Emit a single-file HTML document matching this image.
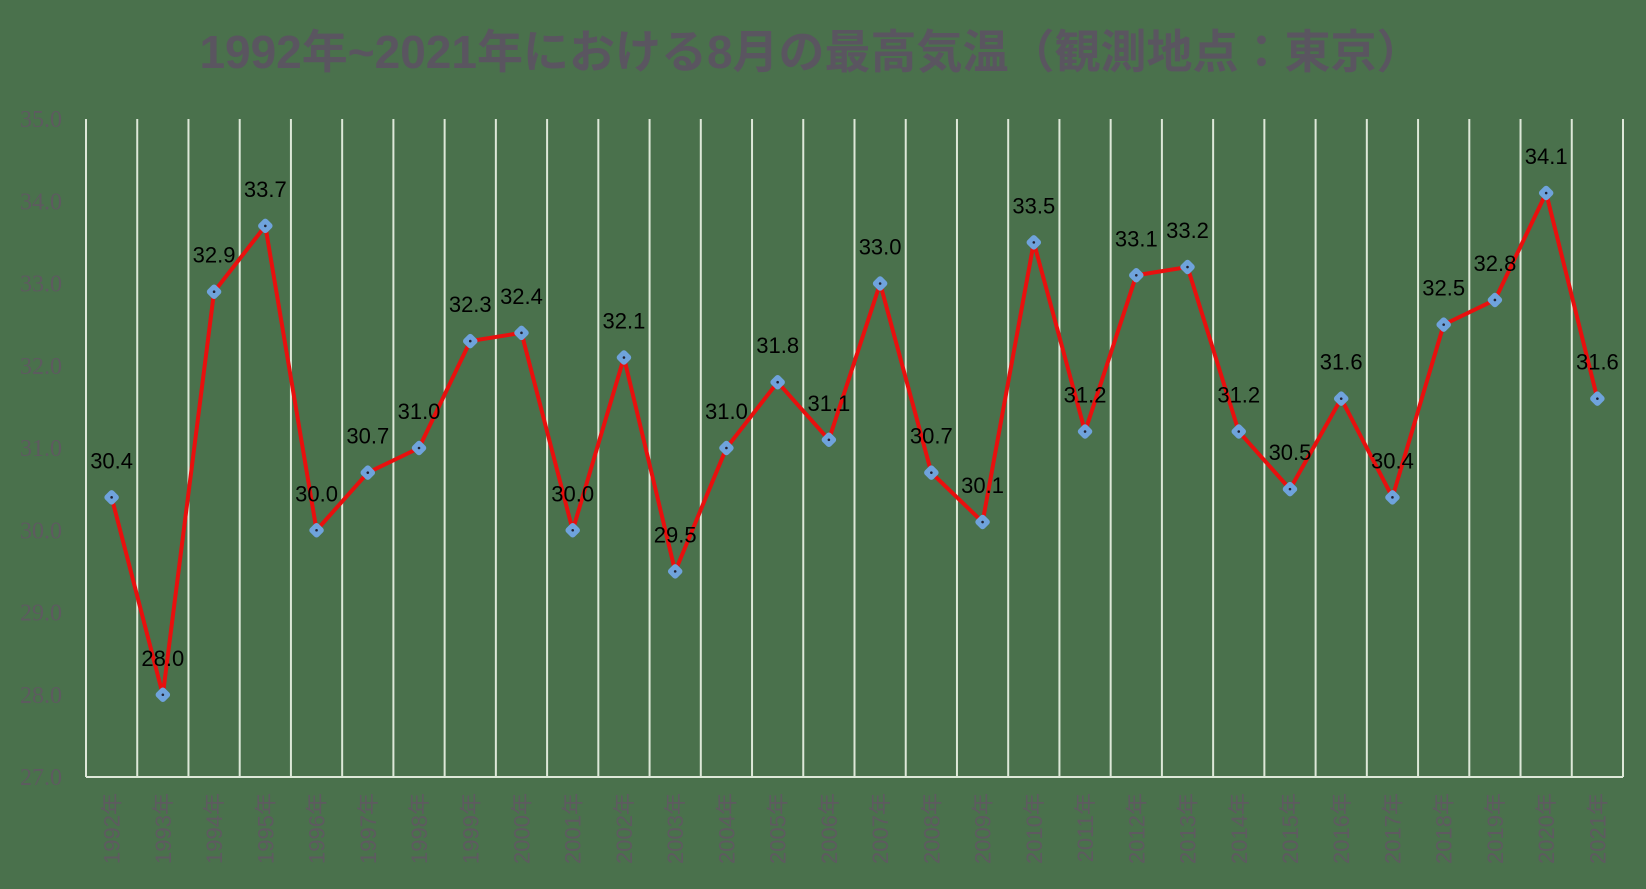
<!DOCTYPE html>
<html><head><meta charset="utf-8"><style>
html,body{margin:0;padding:0;background:#4a714c;}
svg{display:block;}
</style></head><body>
<svg id="chart" width="1646" height="889" xmlns="http://www.w3.org/2000/svg">
<rect width="1646" height="889" fill="#4a714c"/>
<text x="811" y="68" text-anchor="middle" font-family="'Liberation Sans','Noto Sans CJK JP',sans-serif" style="font-size:46px;font-weight:bold" fill="#5a5560">1992年~2021年における8月の最高気温（観測地点：東京）</text>
<g id="grid"></g><g id="yt"></g><g id="xt"></g><g id="series"></g>
</svg>
<script>
const categories=["1992年","1993年","1994年","1995年","1996年","1997年","1998年","1999年","2000年","2001年","2002年","2003年","2004年","2005年","2006年","2007年","2008年","2009年","2010年","2011年","2012年","2013年","2014年","2015年","2016年","2017年","2018年","2019年","2020年","2021年"];
const temps=[30.4,28.0,32.9,33.7,30.0,30.7,31.0,32.3,32.4,30.0,32.1,29.5,31.0,31.8,31.1,33.0,30.7,30.1,33.5,31.2,33.1,33.2,31.2,30.5,31.6,30.4,32.5,32.8,34.1,31.6];
const yTicks=[27,28,29,30,31,32,33,34,35];
const NS="http://www.w3.org/2000/svg";
const L=86,R=1623,T=119,B=777,yMin=27,yMax=35;
const bw=(R-L)/categories.length;
const xs=i=>L+bw*(i+0.5);
const ys=v=>B-(v-yMin)/(yMax-yMin)*(B-T);
function mk(tag,attrs,parent){const e=document.createElementNS(NS,tag);for(const k in attrs)e.setAttribute(k,attrs[k]);parent.appendChild(e);return e;}
const grid=document.getElementById('grid'),yt=document.getElementById('yt'),xt=document.getElementById('xt'),ser=document.getElementById('series');
for(let i=0;i<=categories.length;i++){
  const l=mk('line',{x1:L+bw*i,x2:L+bw*i,y1:T,y2:B,stroke:'#dde8d8','stroke-width':2},grid);
  
  
}
const ax=mk('line',{x1:L,x2:R,y1:B,y2:B,stroke:'#dde8d8','stroke-width':2},grid);


yTicks.forEach(v=>{
  const t=mk('text',{x:62,y:ys(v)+8,'text-anchor':'end','font-family':"'Liberation Serif',serif",style:'font-size:24px',fill:'#5e5a60'},yt);
  t.textContent=v.toFixed(1);
  
  
});
categories.forEach((c,i)=>{
  const x=xs(i)+8,y=793;
  const t=mk('text',{x:x,y:y,transform:`rotate(-90 ${x} ${y})`,'text-anchor':'end','font-family':"'Liberation Sans','Noto Sans CJK JP',sans-serif",style:'font-size:22px',fill:'#5e5a60'},xt);
  t.textContent=c;
  
  
});
const pl=mk('polyline',{points:temps.map((v,i)=>xs(i)+','+ys(v)).join(' '),fill:'none',stroke:'#e8100e','stroke-width':4,'stroke-linejoin':'round'},ser);


temps.forEach((v,i)=>{
  const x=xs(i),y=ys(v);
  const m=mk('rect',{x:x-6,y:y-6,width:12,height:12,rx:3,fill:'#6fa3dc',transform:`rotate(45 ${x} ${y})`},ser);
  
  
  mk('circle',{cx:x,cy:y,r:1.3,fill:'#223'},ser);
  const t=mk('text',{x:x,y:y-29,'text-anchor':'middle','font-family':"'Liberation Sans',sans-serif",style:'font-size:22px',fill:'#000'},ser);
  t.textContent=v.toFixed(1);
  
  
});
</script>
</body></html>
